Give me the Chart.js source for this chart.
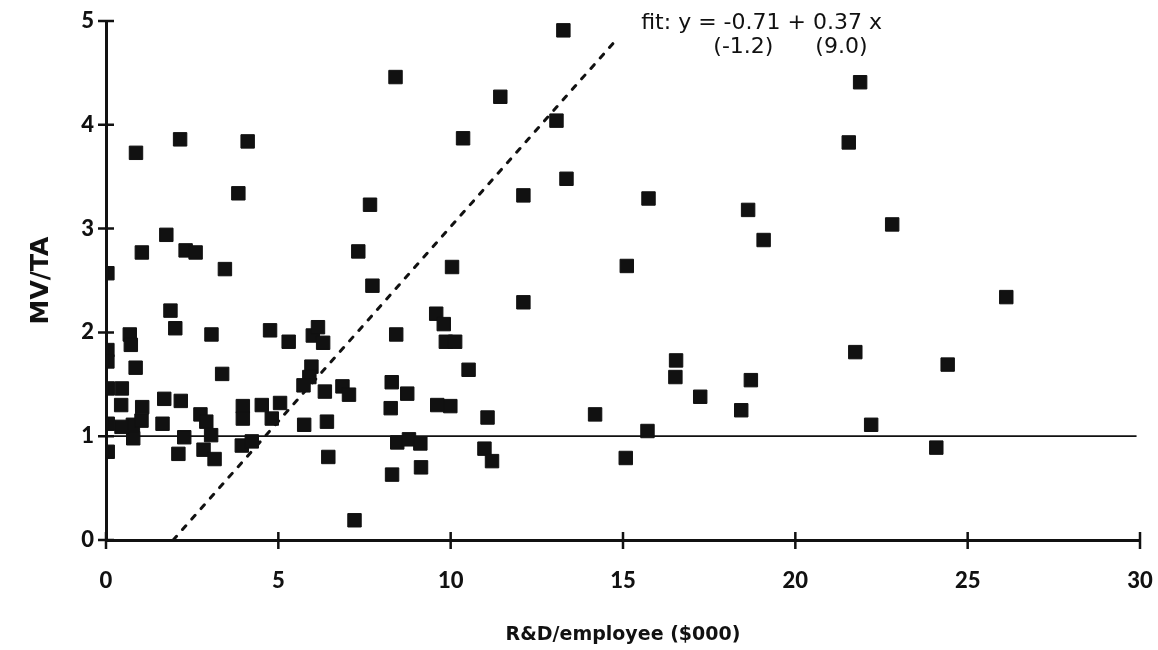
<!DOCTYPE html>
<html lang="en">
<head>
<meta charset="UTF-8">
<title>MV/TA vs R&amp;D per employee</title>
<script src="https://cdn.jsdelivr.net/npm/chart.js"></script>
<style>
  html, body { margin: 0; padding: 0; background: #fff; }
  .chart-container { width: 1158px; height: 650px; }
</style>
</head>
<body>
<div class="chart-container"><canvas id="scatterChart"></canvas></div>
<script>
// R&D per employee ($000) and MV/TA
const rdPerEmployee = [
  0.87, 2.15, 4.11, 3.84, 7.66, 1.75, 1.04, 2.31, 2.60, 3.45, 0.04, 7.32, 7.73, 1.87, 2.01, 0.69,
  0.72, 0.04, 0.04, 3.06, 4.76, 5.30, 6.00, 6.15, 6.30, 0.86, 3.37, 0.05, 0.46, 5.96, 5.90, 5.73,
  6.35, 6.86, 7.05, 0.44, 1.05, 1.69, 2.17, 0.05, 0.78, 1.03, 0.79, 0.45, 1.64, 2.74, 2.91, 3.05,
  2.83, 3.15, 2.27, 2.10, 0.05, 3.97, 3.97, 4.52, 4.81, 5.05, 3.94, 4.23, 5.75, 6.41, 6.45, 7.21,
  8.40, 11.44, 13.07, 10.36, 13.36, 12.11, 15.74, 13.27, 10.04, 15.11, 12.11, 9.58, 9.80, 9.86,
  10.13, 8.42, 10.52, 8.29, 8.74, 8.26, 9.61, 9.99, 11.07, 14.19, 15.71, 8.45, 8.79, 9.12, 10.98,
  11.20, 8.30, 9.14, 15.08,
  21.88, 21.55, 18.63, 22.81, 19.08, 16.54, 16.52, 17.24, 18.71, 18.43, 21.74, 24.42, 22.20,
  24.09, 26.12
];
const mvOverTa = [
  3.73, 3.86, 3.84, 3.34, 3.23, 2.94, 2.77, 2.79, 2.77, 2.61, 2.57, 2.78, 2.45, 2.21, 2.04, 1.98,
  1.88, 1.83, 1.72, 1.98, 2.02, 1.91, 1.97, 2.05, 1.90, 1.66, 1.60, 1.46, 1.46, 1.67, 1.57, 1.49,
  1.43, 1.48, 1.40, 1.30, 1.28, 1.36, 1.34, 1.12, 1.11, 1.15, 0.98, 1.09, 1.12, 1.21, 1.14, 1.01,
  0.87, 0.78, 0.99, 0.83, 0.85, 1.29, 1.17, 1.30, 1.17, 1.32, 0.91, 0.95, 1.11, 1.14, 0.80, 0.19,
  4.46, 4.27, 4.04, 3.87, 3.48, 3.32, 3.29, 4.91, 2.63, 2.64, 2.29, 2.18, 2.08, 1.91,
  1.91, 1.98, 1.64, 1.52, 1.41, 1.27, 1.30, 1.29, 1.18, 1.21, 1.05, 0.94, 0.97, 0.93, 0.88,
  0.76, 0.63, 0.70, 0.79,
  4.41, 3.83, 3.18, 3.04, 2.89, 1.73, 1.57, 1.38, 1.54, 1.25, 1.81, 1.69, 1.11,
  0.89, 2.34
];

// reference line at MV/TA = 1 and the fitted line (dotted)
const baselineX = [0, 29.9];
const baselineY = [1, 1];
const fitX = [1.95, 14.86];
const fitY = [0, 4.84];

const xTicks = [0, 5, 10, 15, 20, 25, 30];
const yTicks = [0, 1, 2, 3, 4, 5];
const fitLabel = ['fit: y = -0.71 + 0.37 x', '(-1.2)', '(9.0)'];

const toPoints = (xs, ys) => xs.map((x, i) => ({ x: x, y: ys[i] }));

// tick marks that cross the axis lines, like the original
const crossTicks = {
  id: 'crossTicks',
  afterDraw(chart) {
    const ctx = chart.ctx;
    const xs = chart.scales.x, ys = chart.scales.y;
    ctx.save();
    ctx.strokeStyle = '#111';
    ctx.lineWidth = 2.5;
    ctx.beginPath();
    xTicks.forEach(v => {
      const px = xs.getPixelForValue(v);
      ctx.moveTo(px, ys.bottom - 8);
      ctx.lineTo(px, ys.bottom + 9);
    });
    yTicks.forEach(v => {
      const py = ys.getPixelForValue(v);
      ctx.moveTo(xs.left - 8, py);
      ctx.lineTo(xs.left + 8, py);
    });
    ctx.stroke();
    ctx.restore();
  }
};

// fit equation text
const fitText = {
  id: 'fitText',
  afterDraw(chart) {
    const ctx = chart.ctx;
    const xs = chart.scales.x, ys = chart.scales.y;
    ctx.save();
    ctx.fillStyle = '#111';
    ctx.font = '22px "DejaVu Sans"';
    ctx.textBaseline = 'middle';
    ctx.textAlign = 'left';
    ctx.fillText(fitLabel[0], xs.getPixelForValue(15.53), ys.getPixelForValue(4.98));
    ctx.fillText(fitLabel[1], xs.getPixelForValue(17.62), ys.getPixelForValue(4.75));
    ctx.fillText(fitLabel[2], xs.getPixelForValue(20.58), ys.getPixelForValue(4.75));
    ctx.restore();
  }
};

const ctx = document.getElementById('scatterChart').getContext('2d');
new Chart(ctx, {
  type: 'scatter',
  data: {
    datasets: [
      {
        label: 'firms',
        data: toPoints(rdPerEmployee, mvOverTa),
        pointStyle: 'rect',
        pointRadius: 9.5,
        pointHoverRadius: 9.5,
        backgroundColor: '#111',
        borderColor: '#111',
        borderWidth: 1
      },
      {
        label: 'MV/TA = 1',
        data: toPoints(baselineX, baselineY),
        showLine: true,
        pointRadius: 0,
        borderColor: '#111',
        borderWidth: 1.8
      },
      {
        label: 'fit',
        data: toPoints(fitX, fitY),
        showLine: true,
        pointRadius: 0,
        borderColor: '#111',
        borderWidth: 3,
        borderDash: [5, 9],
        borderCapStyle: 'round'
      }
    ]
  },
  options: {
    responsive: true,
    maintainAspectRatio: false,
    animation: false,
    layout: { padding: { left: 26, right: 18, top: 21, bottom: 4 } },
    plugins: {
      legend: { display: false },
      tooltip: { enabled: false }
    },
    scales: {
      x: {
        type: 'linear',
        min: 0,
        max: 30,
        afterBuildTicks: axis => { axis.ticks = xTicks.map(v => ({ value: v })); },
        afterFit: axis => {
          axis.height = 106;
          axis.paddingLeft = 0;
          axis.paddingRight = 0;
        },
        grid: { display: false },
        border: { display: true, color: '#111', width: 3 },
        ticks: {
          color: '#111',
          padding: 20,
          maxRotation: 0,
          font: { family: 'Lato', weight: 900, size: 22 }
        },
        title: {
          display: true,
          text: 'R&D/employee ($000)',
          color: '#111',
          padding: { top: 0, bottom: 0 },
          font: { family: 'DejaVu Sans', weight: 'bold', size: 19 }
        }
      },
      y: {
        type: 'linear',
        min: 0,
        max: 5,
        afterBuildTicks: axis => { axis.ticks = yTicks.map(v => ({ value: v })); },
        afterFit: axis => {
          axis.width = 80;
          axis.paddingTop = 0;
          axis.paddingBottom = 0;
        },
        grid: { display: false },
        border: { display: true, color: '#111', width: 3 },
        ticks: {
          color: '#111',
          padding: 4,
          font: { family: 'Lato', weight: 900, size: 22 }
        },
        title: {
          display: true,
          text: 'MV/TA',
          color: '#111',
          padding: { top: 0, bottom: 0 },
          font: { family: 'DejaVu Sans', weight: 'bold', size: 25 }
        }
      }
    }
  },
  plugins: [crossTicks, fitText]
});
</script>
</body>
</html>
